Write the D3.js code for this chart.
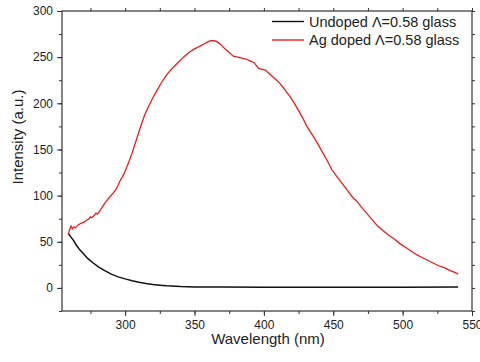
<!DOCTYPE html>
<html>
<head>
<meta charset="utf-8">
<script src="https://cdn.jsdelivr.net/npm/d3@7"></script>
<style>
  body { margin: 0; background: #fff; }
  text { font-family: "Liberation Sans", Arial, sans-serif; }
</style>
</head>
<body>
<div id="chart"></div>
<script>
// Ag doped glass (red)
const dopedWl = [259, 260, 261, 262, 263, 264, 266, 268, 270, 272, 274, 275, 276, 278, 279, 280, 282, 285, 288, 291,
  294, 296, 299, 302, 305, 308, 311, 314, 317, 320, 323, 326, 330, 334, 338, 342, 346, 350, 354, 357,
  359, 361, 363, 365, 367, 369, 372, 375, 378, 381, 384, 387, 390, 393, 396, 398, 401, 404, 407, 410, 413, 416,
  419, 422, 425, 428, 431, 434, 437, 440, 443, 446, 449, 452, 455, 458, 461, 464, 467, 470, 474, 478,
  482, 486, 490, 494, 498, 502, 506, 510, 514, 518, 522, 526, 530, 534, 538, 540];
const dopedI = [58, 63, 67, 64, 66, 65, 68, 70, 71, 73, 75, 77, 76, 79, 81, 80, 84, 91, 97, 102,
  108, 115, 123, 134, 146, 160, 174, 187, 197, 206, 214, 222, 231, 238, 244, 250, 255, 259, 262, 264.5,
  266, 267.5, 268, 267.5, 266, 263.5, 259, 255, 251, 250, 249, 248, 246, 244, 238, 237, 236, 232, 228, 224, 219, 213,
  207, 200, 192, 184, 175, 168, 161, 153, 145, 137, 128, 122, 116, 110, 104, 98, 94, 88, 81, 74,
  67, 62, 57, 53, 48, 44, 40, 36, 33, 30, 27, 24, 22, 19, 16.5, 15];

// Undoped glass (black)
const undopedWl = [259, 261, 263, 265, 267, 270, 273, 277, 281, 285, 290, 295, 300, 305, 310, 315, 320, 325, 330, 340,
  350, 370, 400, 450, 500, 540];
const undopedI = [59, 55, 51, 46, 42, 37, 32, 27, 22.5, 19, 15, 12, 9.8, 7.8, 6.2, 4.9, 3.8, 3, 2.3, 1.5,
  1.1, 0.9, 0.8, 0.8, 0.8, 0.9];

const xTicks = [300, 350, 400, 450, 500, 550];
const yTicks = [0, 50, 100, 150, 200, 250, 300];
const legendLabels = ["Undoped \u039B=0.58 glass", "Ag doped \u039B=0.58 glass"];

const width = 480, height = 362;
const margin = { top: 11, right: 8, bottom: 51, left: 62 };

const svg = d3.select("#chart").append("svg")
  .attr("width", width)
  .attr("height", height);

const x = d3.scaleLinear().domain([254.5, 550]).range([margin.left, width - margin.right]);
const y = d3.scaleLinear().domain([-25, 300]).range([height - margin.bottom, margin.top]);

const axisColor = "#333";
const minorX = d3.range(275, 551, 25);
const minorY = d3.range(-25, 301, 25);

function style(g) {
  g.select(".domain").remove();
  g.selectAll("line").attr("stroke", axisColor);
  g.selectAll("text").attr("fill", "#222").attr("font-size", "12px");
}

// bottom
svg.append("g").attr("transform", `translate(0,${y.range()[0]})`)
  .call(d3.axisBottom(x).tickValues(minorX).tickSize(3).tickFormat(""))
  .call(style);
svg.append("g").attr("transform", `translate(0,${y.range()[0]})`)
  .call(d3.axisBottom(x).tickValues(xTicks).tickSize(5).tickPadding(4).tickFormat(d3.format("d")))
  .call(style);
// top
svg.append("g").attr("transform", `translate(0,${y.range()[1]})`)
  .call(d3.axisTop(x).tickValues(minorX).tickSize(3).tickFormat(""))
  .call(style);
// left
svg.append("g").attr("transform", `translate(${x.range()[0]},0)`)
  .call(d3.axisLeft(y).tickValues(minorY).tickSize(3).tickFormat(""))
  .call(style);
svg.append("g").attr("transform", `translate(${x.range()[0]},0)`)
  .call(d3.axisLeft(y).tickValues(yTicks).tickSize(5).tickPadding(4).tickFormat(d3.format("d")))
  .call(style);
// right
svg.append("g").attr("transform", `translate(${x.range()[1]},0)`)
  .call(d3.axisRight(y).tickValues(minorY).tickSize(3).tickFormat(""))
  .call(style);

svg.append("rect")
  .attr("x", x.range()[0]).attr("y", y.range()[1])
  .attr("width", x.range()[1] - x.range()[0])
  .attr("height", y.range()[0] - y.range()[1])
  .attr("fill", "none").attr("stroke", axisColor).attr("stroke-width", 1.2);

const line = d3.line().x(d => x(d[0])).y(d => y(d[1]));

svg.append("path")
  .datum(undopedWl.map((w, i) => [w, undopedI[i]]))
  .attr("d", line).attr("fill", "none").attr("stroke", "#111").attr("stroke-width", 1.5);

svg.append("path")
  .datum(dopedWl.map((w, i) => [w, dopedI[i]]))
  .attr("d", line).attr("fill", "none").attr("stroke", "#ee1c1c").attr("stroke-width", 1.3);

// axis titles
svg.append("text")
  .attr("x", 268).attr("y", 344)
  .attr("text-anchor", "middle").attr("font-size", "15px").attr("fill", "#222")
  .text("Wavelength (nm)");
svg.append("text")
  .attr("transform", "translate(23,137) rotate(-90)")
  .attr("text-anchor", "middle").attr("font-size", "15px").attr("fill", "#222")
  .text("Intensity (a.u.)");

// legend
const legendColors = ["#111", "#ee1c1c"];
const leg = svg.append("g");
legendLabels.forEach((lab, i) => {
  const ly = 21.5 + i * 18.5;
  leg.append("line").attr("x1", 272).attr("x2", 304).attr("y1", ly).attr("y2", ly)
    .attr("stroke", legendColors[i]).attr("stroke-width", 1.4);
  leg.append("text").attr("x", 309).attr("y", ly + 5)
    .attr("font-size", "14.5px").attr("fill", "#222").text(lab);
});
</script>
</body>
</html>
